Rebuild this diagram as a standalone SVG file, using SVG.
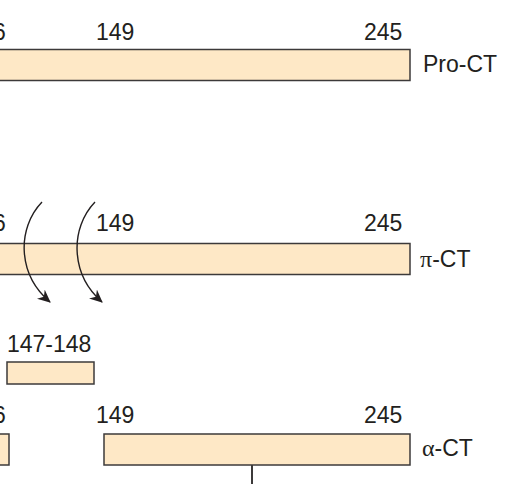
<svg xmlns="http://www.w3.org/2000/svg" width="518" height="484" viewBox="0 0 518 484">
<style>
.bar{fill:#fee8c6;stroke:#3c3a3a;stroke-width:1.5}
.t{font-family:"Liberation Sans",Arial,sans-serif;font-size:23px;fill:#231f20}
.g{font-family:"Liberation Serif","Times New Roman",serif;font-size:24px}
.arc{fill:none;stroke:#231f20;stroke-width:1.4}
</style>
<defs>
<marker id="ah" markerWidth="14" markerHeight="12" refX="12" refY="6" orient="auto" markerUnits="userSpaceOnUse">
<path d="M0,0 L13,6 L0,12 L4,6 Z" fill="#231f20"/>
</marker>
</defs>
<g id="pro-ct">
<rect class="bar" x="-5" y="49.5" width="415" height="31"/>
<text class="t" x="-7" y="40">6</text>
<text class="t" x="96" y="40">149</text>
<text class="t" x="364" y="40">245</text>
<text class="t" x="423" y="72">Pro-CT</text>
</g>
<g id="pi-ct">
<rect class="bar" x="-5" y="243.5" width="415" height="31"/>
<text class="t" x="-7" y="231">6</text>
<text class="t" x="96" y="231">149</text>
<text class="t" x="364" y="231">245</text>
<text class="t" x="420" y="267"><tspan class="g">π</tspan>-CT</text>
</g>
<g id="fragment-147-148">
<rect class="bar" x="7" y="362" width="87" height="22"/>
<text class="t" x="7" y="352">147-148</text>
</g>
<g id="alpha-ct">
<rect class="bar" x="-5" y="434" width="14" height="31"/>
<rect class="bar" x="104" y="434" width="306" height="31"/>
<text class="t" x="-7" y="423">6</text>
<text class="t" x="96" y="423">149</text>
<text class="t" x="364" y="423">245</text>
<text class="t" x="422" y="456"><tspan class="g">α</tspan>-CT</text>
</g>
<g id="connectors">
<path class="arc" d="M42,202 C17,228 17,274 50,302" marker-end="url(#ah)"/>
<path class="arc" d="M95,202 C70,228 70,274 102,302" marker-end="url(#ah)"/>
<line x1="252" y1="465" x2="252" y2="484" stroke="#3c3a3a" stroke-width="2"/>
</g>
</svg>
